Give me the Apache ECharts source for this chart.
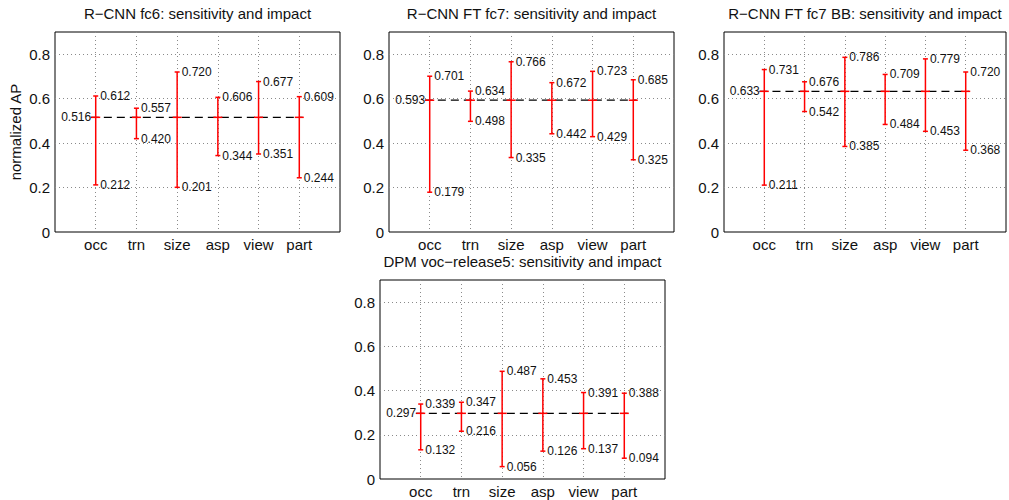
<!DOCTYPE html>
<html>
<head>
<meta charset="utf-8">
<script src="https://cdn.jsdelivr.net/npm/echarts@6/dist/echarts.min.js"></script>
<style>
html,body{margin:0;padding:0;background:#fff;}
#chart{width:1009px;height:500px;}
</style>
</head>
<body>
<div id="chart"></div>
<script>
// ---- data ----
const categories = ['occ', 'trn', 'size', 'asp', 'view', 'part'];
const titles = [
  'R\u2212CNN fc6: sensitivity and impact',
  'R\u2212CNN FT fc7: sensitivity and impact',
  'R\u2212CNN FT fc7 BB: sensitivity and impact',
  'DPM voc\u2212release5: sensitivity and impact'
];
const yTicks = [0, 0.2, 0.4, 0.6, 0.8];
const yLabel = 'normalized AP';

const meanFc6 = 0.516;
const highFc6 = [0.612, 0.557, 0.720, 0.606, 0.677, 0.609];
const lowFc6  = [0.212, 0.420, 0.201, 0.344, 0.351, 0.244];

const meanFtFc7 = 0.593;
const highFtFc7 = [0.701, 0.634, 0.766, 0.672, 0.723, 0.685];
const lowFtFc7  = [0.179, 0.498, 0.335, 0.442, 0.429, 0.325];

const meanFtFc7BB = 0.633;
const highFtFc7BB = [0.731, 0.676, 0.786, 0.709, 0.779, 0.720];
const lowFtFc7BB  = [0.211, 0.542, 0.385, 0.484, 0.453, 0.368];

const meanDpm = 0.297;
const highDpm = [0.339, 0.347, 0.487, 0.453, 0.391, 0.388];
const lowDpm  = [0.132, 0.216, 0.056, 0.126, 0.137, 0.094];

// ---- layout / style ----
const FONT = "'Liberation Sans', Arial, Helvetica, sans-serif";
const TXT = '#111';
const RED = '#ff0000';
const layouts = [
  {left: 55,  top: 32,  width: 285, height: 200},
  {left: 389, top: 32,  width: 285, height: 200},
  {left: 724, top: 32,  width: 285, height: 200},
  {left: 380, top: 280, width: 285, height: 199}
];
const panels = [
  {mean: meanFc6, high: highFc6, low: lowFc6},
  {mean: meanFtFc7, high: highFtFc7, low: lowFtFc7},
  {mean: meanFtFc7BB, high: highFtFc7BB, low: lowFtFc7BB},
  {mean: meanDpm, high: highDpm, low: lowDpm}
];

const grids = [], xAxes = [], yAxes = [], series = [];
const fmt = v => v.toFixed(3);

panels.forEach((p, k) => {
  const L = layouts[k];
  grids.push({left: L.left, top: L.top, width: L.width, height: L.height,
    show: true, borderColor: '#000', borderWidth: 1, backgroundColor: 'transparent'});
  // bottom x axis
  xAxes.push({
    type: 'value', gridIndex: k, position: 'bottom', min: 0, max: categories.length + 1, interval: 1,
    axisLine: {show: false}, axisTick: {show: false},
    axisLabel: {
      margin: 5, color: TXT, fontSize: 15, fontFamily: FONT,
      formatter: v => (Number.isInteger(v) && v >= 1 && v <= categories.length) ? categories[v - 1] : ''
    },
    splitLine: {show: true, showMinLine: false, showMaxLine: false,
      lineStyle: {color: '#8a8a8a', width: 1, type: [1, 3]}}
  });
  // top x axis (title)
  xAxes.push({
    type: 'value', gridIndex: k, position: 'top', min: 0, max: categories.length + 1,
    axisLine: {show: false}, axisTick: {show: false}, axisLabel: {show: false}, splitLine: {show: false},
    name: titles[k], nameLocation: 'middle', nameGap: 11,
    nameTextStyle: {color: TXT, fontSize: 15, fontFamily: FONT}
  });
  yAxes.push({
    type: 'value', gridIndex: k, min: 0, max: 0.9, interval: 0.2,
    axisLine: {show: false}, axisTick: {show: false},
    axisLabel: {
      margin: 5, color: TXT, fontSize: 15, fontFamily: FONT, showMaxLabel: false,
      formatter: v => {
        const t = yTicks.find(y => Math.abs(y - v) < 1e-6);
        return t === undefined ? '' : (t === 0 ? '0' : t.toFixed(1));
      }
    },
    splitLine: {show: true, showMinLine: false, showMaxLine: false,
      lineStyle: {color: '#8a8a8a', width: 1, type: [1, 3]}},
    name: k === 0 ? yLabel : '', nameLocation: 'middle', nameGap: 32,
    nameTextStyle: {color: TXT, fontSize: 15, fontFamily: FONT}
  });

  const n = categories.length;
  // dashed mean line
  series.push({
    type: 'line', xAxisIndex: 2 * k, yAxisIndex: k, symbol: 'none', silent: true, z: 3,
    lineStyle: {color: '#000', width: 1.3, type: [8, 5]},
    data: [[1 - 0.12, p.mean], [n + 0.08, p.mean]],
    animation: false
  });
  // error bars
  const data = categories.map((c, i) => [i + 1, p.low[i], p.high[i], p.mean]);
  series.push({
    type: 'custom', xAxisIndex: 2 * k, yAxisIndex: k, z: 5, clip: false, animation: false,
    data: data,
    renderItem: function (params, api) {
      const x = api.value(0), lo = api.value(1), hi = api.value(2), m = api.value(3);
      const pLo = api.coord([x, lo]), pHi = api.coord([x, hi]), pM = api.coord([x, m]);
      const cx = pM[0];
      const ls = {stroke: RED, lineWidth: 1.5};
      const txt = (tx, ty, s, align) => ({
        type: 'text', x: tx, y: ty,
        style: {text: s, fill: TXT, fontSize: 12, fontFamily: FONT, align: align, verticalAlign: 'middle'}
      });
      const children = [
        {type: 'line', shape: {x1: cx, y1: pLo[1], x2: cx, y2: pHi[1]}, style: ls},
        {type: 'line', shape: {x1: cx - 2.5, y1: pHi[1], x2: cx + 2.5, y2: pHi[1]}, style: ls},
        {type: 'line', shape: {x1: cx - 2.5, y1: pLo[1], x2: cx + 2.5, y2: pLo[1]}, style: ls},
        {type: 'line', shape: {x1: cx - 4.5, y1: pM[1], x2: cx + 4.5, y2: pM[1]}, style: ls},
        txt(cx + 4.5, pHi[1], fmt(hi), 'left'),
        txt(cx + 4.5, pLo[1], fmt(lo), 'left')
      ];
      if (params.dataIndex === 0) children.push(txt(cx - 4.5, pM[1], fmt(m), 'right'));
      return {type: 'group', children: children};
    }
  });
});

const chart = echarts.init(document.getElementById('chart'), null, {renderer: 'svg'});
chart.setOption({
  animation: false,
  backgroundColor: '#fff',
  grid: grids, xAxis: xAxes, yAxis: yAxes, series: series
});
</script>
</body>
</html>
